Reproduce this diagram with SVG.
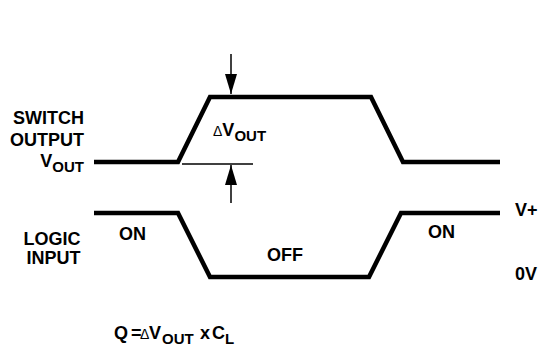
<svg xmlns="http://www.w3.org/2000/svg" width="539" height="348" viewBox="0 0 539 348">
  <defs>
    <style>
      .t { font-family: "Liberation Sans", Arial, sans-serif; font-weight: bold; font-size: 18px; fill: #000; }
      .sub { font-size: 15px; }
      .d { font-weight: normal; font-size: 14px; }
      .wave { fill: none; stroke: #000; stroke-width: 4.5; stroke-linejoin: miter; }
      .thin { fill: none; stroke: #000; stroke-width: 1.5; }
    </style>
    <marker id="ah" viewBox="0 0 20 12" markerWidth="20" markerHeight="12" refX="20" refY="6" orient="auto" markerUnits="userSpaceOnUse">
      <path d="M0,0 L20,6 L0,12 Z" fill="#000"/>
    </marker>
  </defs>
  <rect width="539" height="348" fill="#fff"/>

  <g id="switch-output-label">
    <text class="t" x="84" y="124" text-anchor="end">SWITCH</text>
    <text class="t" x="84" y="146" text-anchor="end">OUTPUT</text>
    <text class="t" x="84" y="167" text-anchor="end">V<tspan class="sub" dy="5">OUT</tspan></text>
  </g>

  <g id="logic-input-label">
    <text class="t" x="52" y="245" text-anchor="middle">LOGIC</text>
    <text class="t" x="53.5" y="264" text-anchor="middle">INPUT</text>
  </g>

  <g id="switch-output-wave">
    <polyline class="wave" points="94,162 178,162 210,97 371,97 403,162 500,162"/>
  </g>

  <g id="logic-input-wave">
    <polyline class="wave" points="94,213 178,213 210,277 369,277 401,213 500,213"/>
  </g>

  <g id="delta-vout">
    <text class="t" x="213" y="136"><tspan class="d">Δ</tspan>V<tspan class="sub" dy="5">OUT</tspan></text>
  </g>

  <g id="connectors">
    <line class="thin" x1="182" y1="164" x2="253" y2="164"/>
    <line class="thin" x1="231" y1="54" x2="231" y2="94" marker-end="url(#ah)"/>
    <line class="thin" x1="231" y1="203" x2="231" y2="165" marker-end="url(#ah)"/>
  </g>

  <g id="state-labels">
    <text class="t" x="119" y="240">ON</text>
    <text class="t" x="267" y="261">OFF</text>
    <text class="t" x="428" y="238">ON</text>
    <text class="t" x="515" y="216">V+</text>
    <text class="t" x="515" y="280">0V</text>
  </g>

  <g id="formula">
    <text class="t" y="339"><tspan x="114">Q</tspan><tspan x="131">=</tspan><tspan class="d" x="140">Δ</tspan><tspan x="149">V</tspan><tspan class="sub" x="162" dy="5">OUT</tspan><tspan x="200" dy="-5">x</tspan><tspan x="212">C</tspan><tspan class="sub" x="225" dy="5">L</tspan></text>
  </g>
</svg>
